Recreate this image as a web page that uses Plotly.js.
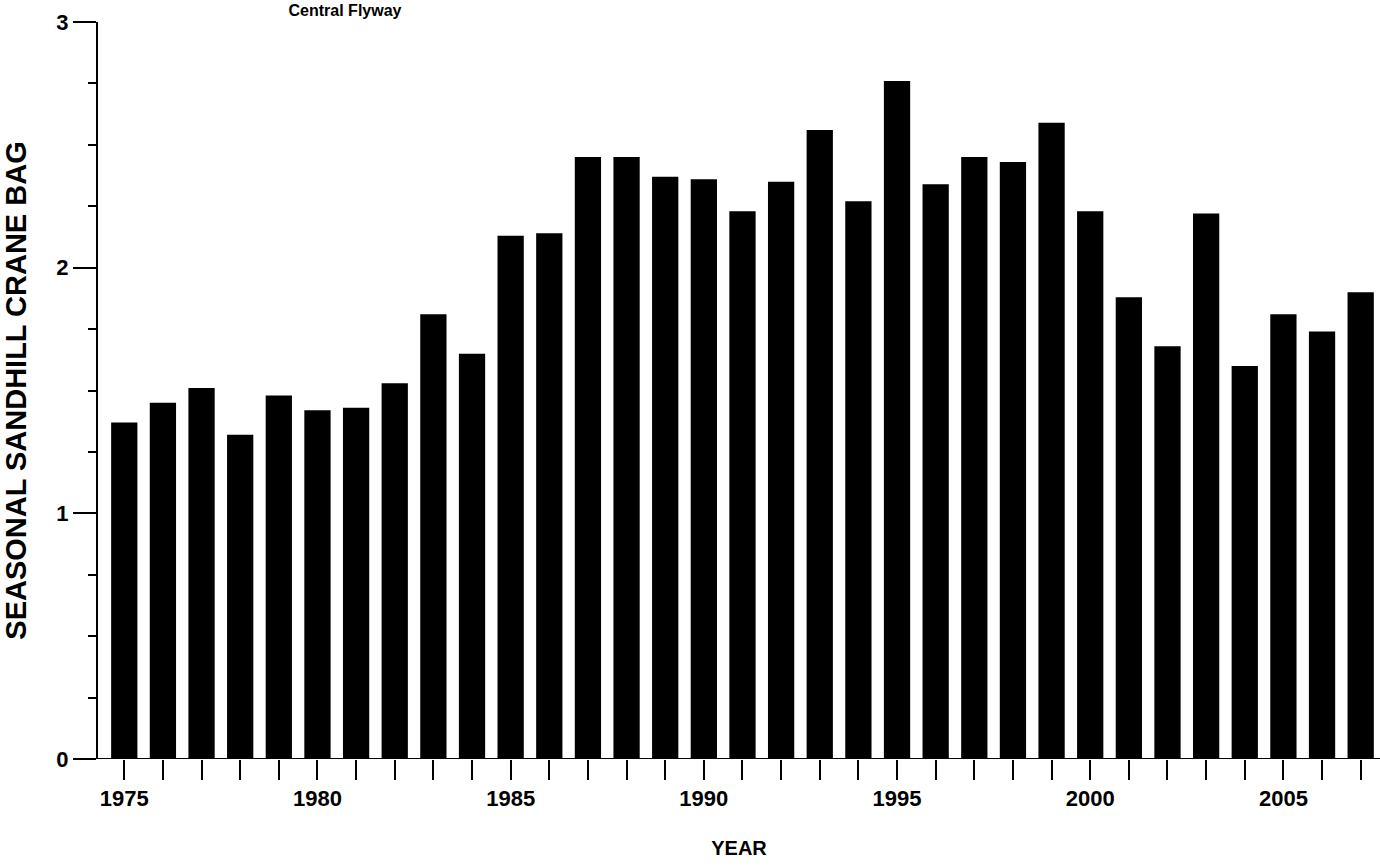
<!DOCTYPE html>
<html>
<head>
<script src="https://cdn.plot.ly/plotly-3.0.1.min.js"></script>
<style>body{margin:0;}#chart{width:1380px;height:867px;}</style>
</head>
<body>
<div id="chart"></div>
<script>
// seasonal bag per year
var years = [1975,1976,1977,1978,1979,1980,1981,1982,1983,1984,1985,1986,1987,1988,1989,1990,
	1991,1992,1993,1994,1995,1996,1997,1998,1999,2000,2001,2002,2003,2004,2005,2006,2007];
var bag = [1.37,1.45,1.51,1.32,1.48,1.42,1.43,1.53,1.81,1.65,2.13,2.14,2.45,2.45,2.37,2.36,
	2.23,2.35,2.56,2.27,2.76,2.34,2.45,2.43,2.59,2.23,1.88,1.68,2.22,1.60,1.81,1.74,1.90];

var fam = 'Liberation Sans, Arial, sans-serif';
var tickFont = {family: fam, size: 22, color: '#000'};

var data = [{
	type: 'bar', x: years, y: bag, width: 0.68,
	marker: {color: '#000', line: {width: 0}}
}];

var layout = {
	width: 1380, height: 867,
	margin: {l: 98, r: 0, t: 22, b: 108},
	paper_bgcolor: '#fff', plot_bgcolor: '#fff',
	font: {family: fam, color: '#000'}, showlegend: false,
	title: {text: '<b>Central Flyway</b>', x: 0.25, xanchor: 'center', y: 0.995, yanchor: 'top', pad: {t: 0}, font: {family: fam, size: 16}},
	xaxis: {
		range: [1974.32, 2007.5], tickmode: 'array',
		tickvals: years, ticktext: years.map(function(y){ return y % 5 == 0 ? '<b>' + y + '</b>' : ''; }),
		ticks: 'outside', ticklen: 20, tickwidth: 2, tickcolor: '#000', tickfont: tickFont,
		showgrid: false, zeroline: false, showline: false,
		title: {text: '<b>YEAR</b>', standoff: 30, font: {family: fam, size: 20}}
	},
	yaxis: {
		range: [0, 3], tickmode: 'array', tickvals: [0,1,2,3], ticktext: ['<b>0</b>','<b>1</b>','<b>2</b>','<b>3</b>'],
		ticks: 'outside', ticklen: 23, tickwidth: 2, tickcolor: '#000', tickfont: tickFont,
		minor: {dtick: 0.25, ticks: 'outside', ticklen: 8, tickwidth: 2, tickcolor: '#000', showgrid: false},
		showline: true, linewidth: 2, linecolor: '#000',
		showgrid: false, zeroline: false,
		title: {text: '<b>SEASONAL SANDHILL CRANE BAG</b>', standoff: 26, font: {family: fam, size: 29}}
	},
	shapes: [{type: 'line', xref: 'paper', yref: 'y', x0: -0.017, x1: 1, y0: 0, y1: 0, line: {color: '#000', width: 2}}]
};

Plotly.newPlot('chart', data, layout, {displayModeBar: false});
</script>
</body>
</html>
